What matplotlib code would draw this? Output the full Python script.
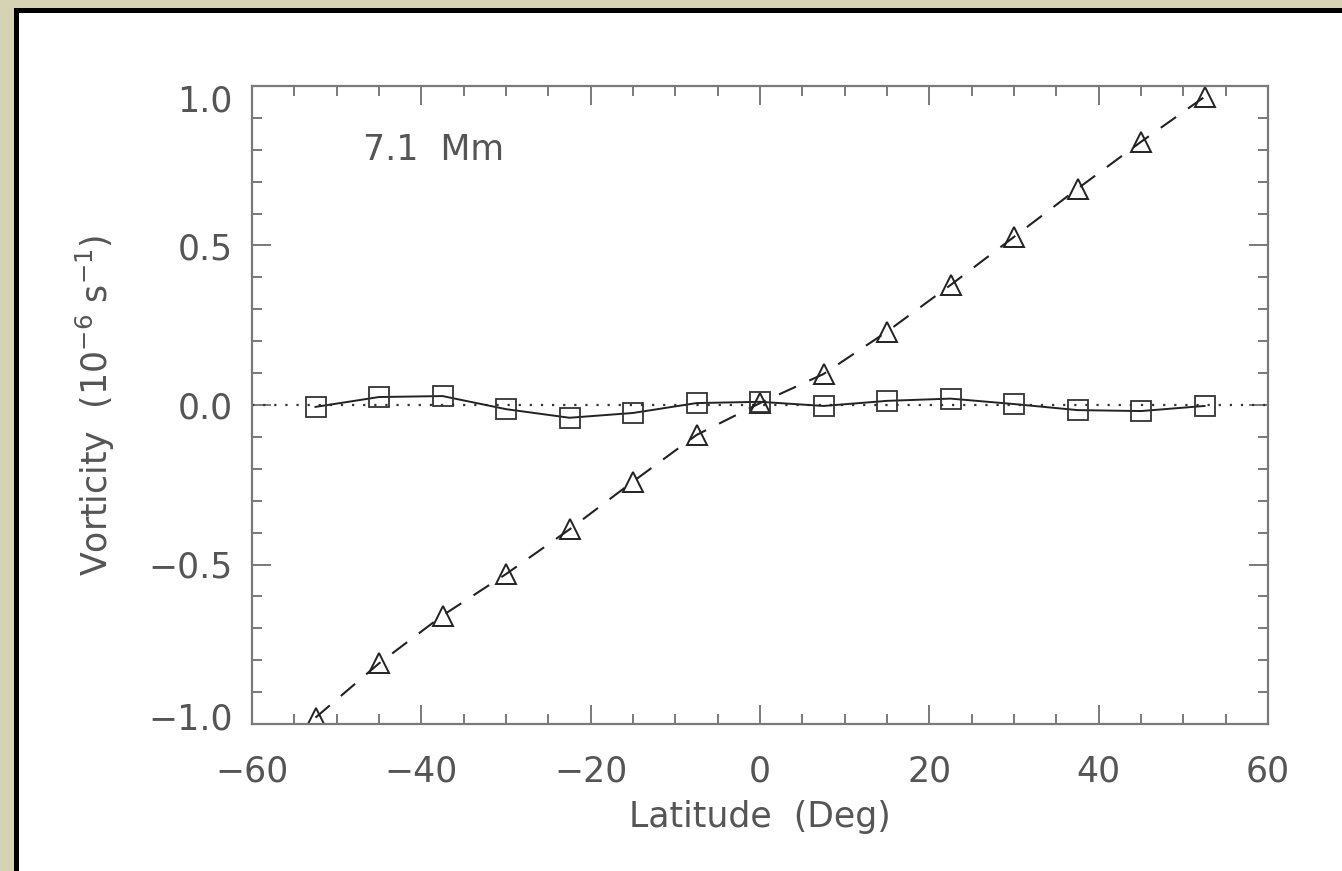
import matplotlib
matplotlib.use("Agg")
from matplotlib import pyplot as plt
from matplotlib.patches import Rectangle
from matplotlib.ticker import MultipleLocator
import matplotlib.transforms as mtransforms

latitude = [-52.5, -45, -37.5, -30, -22.5, -15, -7.5, 0,
            7.5, 15, 22.5, 30, 37.5, 45, 52.5]
# triangles: dashed line
vort_tri = [-0.98, -0.81, -0.66, -0.53, -0.39, -0.24, -0.094, 0.006,
            0.097, 0.23, 0.376, 0.527, 0.678, 0.825, 0.966]
# squares: solid line
vort_sq = [-0.006, 0.025, 0.028, -0.013, -0.04, -0.025, 0.006, 0.01,
           -0.003, 0.013, 0.02, 0.003, -0.016, -0.019, -0.003]
label_text = "7.1  Mm"

plt.rcParams['font.family'] = ['DejaVu Sans']
plt.rcParams['mathtext.fontset'] = 'dejavusans'
txt_col = '#555555'
ax_col = '#7a7a7a'

fig = plt.figure(figsize=(13.42, 8.71), dpi=100)
fig.patch.set_facecolor('#d5d3b3')
# white card with black top/left edge
fig.patches.append(Rectangle((14 / 1342, 0), 1.0, 1 - 8 / 871,
                             transform=fig.transFigure, facecolor='black',
                             edgecolor='none', zorder=-10))
fig.patches.append(Rectangle((19 / 1342, 0), 1.0, 1 - 13 / 871,
                             transform=fig.transFigure, facecolor='white',
                             edgecolor='none', zorder=-9))

ax = fig.add_axes([252 / 1342, 1 - 724 / 871, 1016 / 1342, 638 / 871])
ax.set_facecolor('white')
ax.set_zorder(5)

ax.axhline(0, color='#333333', linestyle=(0, (1, 4)), linewidth=1.6)
ax.plot(latitude, vort_tri, color='#222222', linestyle=(0, (9, 7)),
        linewidth=1.5, marker='^', markersize=15, markerfacecolor='none',
        markeredgecolor='#222222', markeredgewidth=1.4)
ax.plot(latitude, vort_sq, color='#222222', linestyle='-',
        linewidth=1.4, marker='s', markersize=15, markerfacecolor='none',
        markeredgecolor='#333333', markeredgewidth=1.3)

ax.set_xlim(-60, 60)
ax.set_ylim(-1.0, 1.0)
ax.xaxis.set_major_locator(MultipleLocator(20))
ax.xaxis.set_minor_locator(MultipleLocator(5))
ax.yaxis.set_major_locator(MultipleLocator(0.5))
ax.yaxis.set_minor_locator(MultipleLocator(0.1))
ax.yaxis.set_major_formatter(plt.FuncFormatter(lambda v, p: f"{v:.1f}".replace('-', '\u2212')))
ax.xaxis.set_major_formatter(plt.FuncFormatter(lambda v, p: f"{v:.0f}".replace('-', '\u2212')))

for s in ax.spines.values():
    s.set_color(ax_col)
    s.set_linewidth(1.6)
ax.tick_params(which='both', direction='in', top=True, right=True,
               color=ax_col, labelcolor=txt_col, labelsize=25)
ax.tick_params(which='major', length=14, width=1.4)
ax.tick_params(which='minor', length=7, width=1.4)
ax.tick_params(axis='x', which='major', pad=22)
ax.tick_params(axis='y', which='major', pad=14)

# end labels on the y axis sit inside the axis range, as in the original
fig.canvas.draw()
ylabels = ax.get_yticklabels()
shift_top = mtransforms.ScaledTranslation(0, -12 / 100, fig.dpi_scale_trans)
shift_bot = mtransforms.ScaledTranslation(0, 8 / 100, fig.dpi_scale_trans)
for lab in ylabels:
    if lab.get_text() == '1.0':
        lab.set_transform(lab.get_transform() + shift_top)
    elif lab.get_text() == '\u22121.0':
        lab.set_transform(lab.get_transform() + shift_bot)

ax.set_xlabel("Latitude  (Deg)", fontsize=25, color=txt_col, labelpad=8)
ax.set_ylabel("Vorticity  (10$^{-6}$ s$^{-1}$)", fontsize=25,
              color=txt_col, labelpad=22)
ax.text(-46.9, 0.80, label_text, fontsize=25, color=txt_col,
        va='center', ha='left')

fig.savefig("out.png", dpi=100, facecolor=fig.get_facecolor())
